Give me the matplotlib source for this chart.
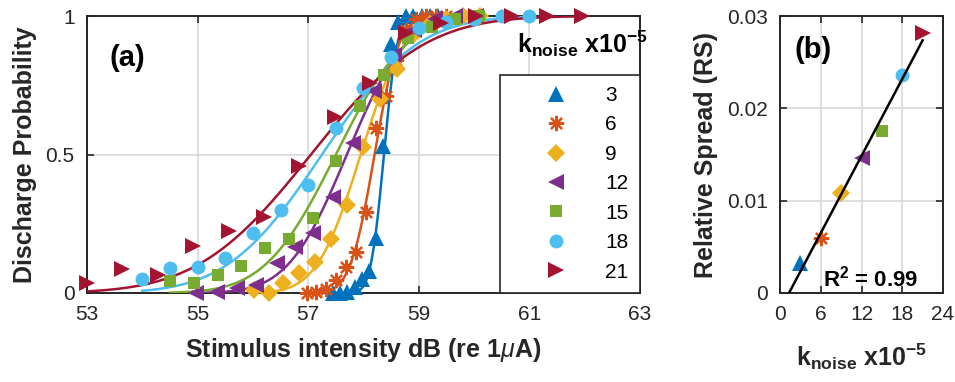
import math
import matplotlib
matplotlib.use('Agg')
import matplotlib.pyplot as plt
import numpy as np

plt.rcParams['font.family'] = ['Liberation Sans', 'DejaVu Sans']
plt.rcParams['mathtext.fontset'] = 'custom'
plt.rcParams['mathtext.rm'] = 'Liberation Sans'
plt.rcParams['mathtext.it'] = 'Liberation Sans:italic'
plt.rcParams['mathtext.bf'] = 'Liberation Sans:bold'

# k_noise (x1e-5) per series
k_noise = [3, 6, 9, 12, 15, 18, 21]
labels = ['3', '6', '9', '12', '15', '18', '21']

# discharge probability data (stimulus dB, probability)
x3 = [57.45, 57.58, 57.71, 57.84, 57.97, 58.10, 58.23, 58.36, 58.50, 58.63, 58.76, 58.90, 59.05, 59.20, 59.35]
p3 = [0.0, 0.0, 0.005, 0.02, 0.05, 0.08, 0.20, 0.53, 0.90, 0.98, 1.0, 1.0, 1.0, 1.0, 1.0]
x6 = [56.97, 57.15, 57.33, 57.51, 57.69, 57.87, 58.05, 58.23, 58.41, 58.59, 58.77, 58.95, 59.13, 59.31, 59.49]
p6 = [0.0, 0.005, 0.015, 0.047, 0.094, 0.148, 0.292, 0.596, 0.71, 0.84, 0.95, 0.99, 1.0, 1.0, 1.0]
x9 = [56.02, 56.29, 56.55, 56.83, 57.12, 57.42, 57.70, 58.00, 58.30, 58.60, 58.90, 59.20, 59.50, 59.80, 60.10]
p9 = [0.01, 0.0, 0.036, 0.072, 0.112, 0.195, 0.318, 0.527, 0.70, 0.81, 0.93, 0.97, 0.99, 1.0, 1.0]
x12 = [54.97, 55.35, 55.71, 56.06, 56.43, 56.76, 57.09, 57.45, 57.81, 58.19, 58.55, 58.92, 59.29, 59.66, 60.03]
p12 = [0.0, 0.004, 0.017, 0.03, 0.11, 0.165, 0.215, 0.347, 0.54, 0.73, 0.86, 0.95, 0.99, 1.0, 1.0]
x15 = [54.50, 54.93, 55.36, 55.79, 56.22, 56.65, 57.08, 57.51, 57.94, 58.37, 58.80, 59.23, 59.66, 60.09]
p15 = [0.043, 0.036, 0.065, 0.097, 0.162, 0.195, 0.27, 0.477, 0.675, 0.787, 0.92, 0.96, 0.99, 1.0]
x18 = [54.0, 54.5, 55.0, 55.5, 56.0, 56.5, 57.0, 57.5, 58.0, 58.5, 59.0, 59.5, 60.0, 60.5, 61.0]
p18 = [0.05, 0.09, 0.095, 0.128, 0.215, 0.30, 0.39, 0.595, 0.74, 0.852, 0.957, 0.98, 0.99, 1.0, 1.0]
x21 = [53.0, 53.64, 54.28, 54.92, 55.56, 56.20, 56.84, 57.48, 58.12, 58.76, 59.40, 60.04, 60.68, 61.32, 61.96]
p21 = [0.036, 0.087, 0.065, 0.17, 0.224, 0.275, 0.46, 0.636, 0.758, 0.94, 0.975, 1.0, 1.0, 1.0, 1.0]

# fitted thresholds (dB) and relative spread
threshold = [58.37, 58.20, 57.95, 57.70, 57.50, 57.25, 57.05]
rel_spread = [0.00325, 0.00596, 0.0108, 0.0146, 0.0175, 0.0236, 0.0282]

xs = [x3, x6, x9, x12, x15, x18, x21]
ps = [p3, p6, p9, p12, p15, p18, p21]

colors = ['#0072BD', '#D95319', '#EDB120', '#7E2F8E', '#77AC30', '#4DBEEE', '#A2142F']
markers = ['^', (8, 2, 0), 'D', '<', 's', 'o', '>']
msizes = [12, 11, 9, 12, 8, 10, 12]
dark = '#262626'

fig = plt.figure(figsize=(9.55, 3.82), dpi=100)
ax = fig.add_axes([87 / 955, 89 / 382, 553 / 955, 277 / 382])
ax2 = fig.add_axes([780 / 955, 89 / 382, 163 / 955, 277 / 382])

erf = np.frompyfunc(math.erf, 1, 1)
handles = []
for i in range(7):
    mu = threshold[i]
    sd = rel_spread[i] * mu
    xf = np.linspace(xs[i][0], xs[i][-1], 300)
    yf = 0.5 * (1 + erf((xf - mu) / (sd * np.sqrt(2))).astype(float))
    ax.plot(xf, yf, '-', color=colors[i], lw=1.8, zorder=3)
    mew = 1.6 if i == 1 else 0
    h, = ax.plot(xs[i], ps[i], linestyle='none', marker=markers[i], ms=msizes[i],
                 color=colors[i], mec=colors[i], mew=mew, clip_on=False, zorder=4)
    handles.append(h)

ax.set_xlim(53, 63)
ax.set_ylim(0, 1)
ax.set_xticks([53, 55, 57, 59, 61, 63])
ax.set_yticks([0, 0.5, 1])
ax.set_yticklabels(['0', '0.5', '1'])
ax.set_xlabel(r'Stimulus intensity dB (re 1$\mu$A)', fontsize=18, fontweight='bold', color=dark, labelpad=8)
ax.set_ylabel('Discharge Probability', fontsize=18, fontweight='bold', color=dark, labelpad=6)
ax.text(53.4, 0.85, '(a)', fontsize=21, fontweight='bold', ha='left', va='center')

leg = ax.legend(handles, labels, loc='lower right', bbox_to_anchor=(1, 0), fontsize=15,
                numpoints=1, handlelength=4.3, handletextpad=0.2, labelspacing=0.5,
                borderpad=0.55, borderaxespad=0, fancybox=False, framealpha=1,
                edgecolor=dark)
leg.get_frame().set_linewidth(1.2)
ax.text(60.78, 0.9, r'$\mathbf{k_{noise}\ x10^{-5}}$', fontsize=18, ha='left', va='center',
        color='black', zorder=6)

# panel b
for i in range(7):
    mew = 1.6 if i == 1 else 0
    ax2.plot(k_noise[i], rel_spread[i], linestyle='none', marker=markers[i], ms=msizes[i],
             color=colors[i], mec=colors[i], mew=mew, clip_on=False, zorder=3)
slope, icpt = np.polyfit(k_noise, rel_spread, 1)
xl = np.array([-icpt / slope, k_noise[-1]])
ax2.plot(xl, slope * xl + icpt, '-', color='black', lw=1.8, zorder=4)
ax2.set_xlim(0, 24)
ax2.set_ylim(0, 0.03)
ax2.set_xticks([0, 6, 12, 18, 24])
ax2.set_yticks([0, 0.01, 0.02, 0.03])
ax2.set_yticklabels(['0', '0.01', '0.02', '0.03'])
ax2.set_xlabel(r'$\mathbf{k_{noise}\ x10^{-5}}$', fontsize=18, color=dark, labelpad=12)
ax2.set_ylabel('Relative Spread (RS)', fontsize=18, fontweight='bold', color=dark, labelpad=6)
ax2.text(2.2, 0.0263, '(b)', fontsize=21, fontweight='bold', ha='left', va='center')
ax2.text(6.3, 0.0016, r'R$^\mathbf{2}$ = 0.99', fontsize=16, fontweight='bold', ha='left', va='center')

for a in (ax, ax2):
    a.grid(True, color='#d9d9d9', lw=1.2)
    a.set_axisbelow(True)
    a.tick_params(direction='in', top=True, right=True, length=5, width=1.2,
                  labelsize=15, colors=dark, pad=9)
    for s in a.spines.values():
        s.set_linewidth(1.4)
        s.set_color(dark)

fig.savefig('out.png', dpi=100)
